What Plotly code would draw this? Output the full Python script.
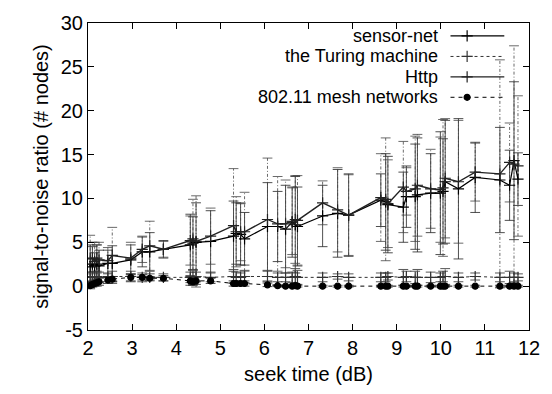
import plotly.graph_objects as go

# ---------------- data ----------------
x_vals = [2.05, 2.10, 2.15, 2.20, 2.25, 2.45, 2.55, 2.97, 3.23, 3.40, 3.71,
          4.32, 4.38, 4.45, 4.78, 5.30, 5.36, 5.46, 5.55, 6.07, 6.30, 6.48,
          6.63, 6.70, 6.75, 7.32, 7.66, 7.91, 8.64, 8.75, 8.80, 9.15, 9.22,
          9.42, 9.47, 9.77, 9.99, 10.05, 10.10, 10.40, 10.78, 11.34, 11.56,
          11.66, 11.75]

sensor_net = [2.2, 2.5, 2.3, 2.5, 2.3, 2.6, 2.6, 3.0, 3.9, 3.9, 4.2,
              4.7, 4.9, 5.0, 5.1, 5.7, 6.0, 5.9, 5.4, 6.8, 6.8, 6.5,
              7.3, 7.0, 6.8, 8.0, 8.3, 8.1, 9.8, 9.6, 9.3, 9.0, 10.2,
              10.2, 10.4, 10.6, 10.6, 10.8, 11.9, 11.1, 12.4, 12.1, 11.5,
              14.3, 12.2]
sensor_net_err = [2.5, 2.0, 1.5, 2.2, 1.8, 1.5, 2.0, 1.7, 1.7, 2.2, 1.0,
                  3.5, 3.0, 4.5, 3.5, 4.0, 3.5, 3.5, 3.0, 5.0, 4.0, 5.0,
                  4.0, 5.5, 4.5, 3.5, 5.0, 4.7, 3.0, 5.5, 5.5, 4.0, 3.5,
                  6.0, 6.5, 4.5, 7.0, 6.0, 7.0, 8.0, 4.0, 6.0, 4.0,
                  9.0, 3.0]

http = [3.1, 3.2, 2.8, 3.2, 3.0, 2.9, 3.5, 3.2, 4.2, 4.6, 4.2,
        5.2, 5.4, 5.1, 5.7, 6.9, 6.2, 6.2, 6.2, 7.6, 7.1, 7.1,
        7.4, 7.6, 7.5, 9.5, 8.7, 8.1, 10.1, 9.9, 9.4, 11.3, 10.8,
        11.1, 11.5, 11.1, 11.0, 11.2, 12.3, 11.9, 13.0, 12.8, 14.1,
        13.9, 13.7]
http_err = [2.7, 1.8, 2.2, 1.5, 2.0, 1.5, 3.2, 1.8, 1.5, 2.8, 0.9,
            2.8, 4.5, 5.2, 3.2, 6.5, 4.0, 3.3, 4.5, 7.0, 5.4, 5.0,
            3.8, 5.0, 5.1, 2.5, 4.8, 4.6, 5.0, 7.0, 5.0, 5.2, 2.7,
            6.0, 5.8, 4.5, 6.0, 7.8, 6.8, 7.0, 3.3, 13.0, 4.5,
            13.5, 8.0]

turing = [1.0, 1.1, 1.0, 1.1, 1.0, 1.0, 1.1, 1.1, 1.0, 1.0, 1.0,
          1.0, 1.0, 1.1, 1.0, 1.1, 1.0, 1.0, 1.1, 1.1, 1.0, 1.0,
          1.0, 1.1, 1.0, 1.0, 1.1, 1.0, 1.0, 1.0, 1.1, 1.0, 1.1,
          1.0, 1.0, 1.0, 1.0, 1.1, 1.1, 1.0, 1.1, 1.0, 1.0,
          1.0, 1.0]
turing_err = [0.6, 0.5, 0.7, 0.4, 0.6, 0.5, 0.6, 0.6, 0.5, 0.4, 0.4,
              0.6, 0.8, 0.5, 0.5, 0.8, 0.6, 0.5, 0.7, 0.6, 0.5, 0.5,
              0.6, 0.9, 0.8, 0.5, 0.3, 0.4, 0.5, 0.5, 0.4, 0.9, 0.6,
              0.7, 0.9, 0.6, 0.5, 0.6, 0.9, 0.5, 0.4, 0.5, 0.7,
              0.5, 0.4]

mesh = [0.05, 0.2, 0.3, 0.4, 0.5, 0.7, 0.8, 1.0, 1.0, 0.9, 0.9,
        0.6, 0.5, 0.6, 0.6, 0.3, 0.3, 0.3, 0.3, 0.15, 0.05, 0.0,
        0.0, 0.05, 0.0, 0.0, 0.0, 0.0, 0.0, 0.0, 0.0, 0.0, 0.0,
        0.0, 0.0, 0.0, 0.0, 0.0, 0.0, 0.0, 0.0, 0.0, 0.0,
        0.0, 0.0]
mesh_err = [0.2, 0.3, 0.3, 0.4, 0.4, 0.4, 0.3, 0.4, 0.3, 0.2, 0.3,
            0.5, 0.4, 0.4, 0.3, 0.3, 0.3, 0.2, 0.3, 0.2, 0.1, 0.1,
            0.1, 0.2, 0.1, 0.1, 0.1, 0.1, 0.1, 0.1, 0.1, 0.1, 0.1,
            0.1, 0.1, 0.1, 0.1, 0.1, 0.1, 0.1, 0.1, 0.1, 0.1,
            0.1, 0.1]

series_names = ["sensor-net", "the Turing machine", "Http", "802.11 mesh networks"]
x_ticks = [2, 3, 4, 5, 6, 7, 8, 9, 10, 11, 12]
y_ticks = [-5, 0, 5, 10, 15, 20, 25, 30]

FONT = "Liberation Sans, Arial, Helvetica, sans-serif"
FS = 20
KEY_FS = 18

styles = [
    dict(vals=sensor_net, err=sensor_net_err, color="#000000", width=1.2, dash="solid",
         bar_dash="solid", bar_color="#222222", bar_w=0.8, symbol="cross-thin", msize=8),
    dict(vals=turing, err=turing_err, color="#333333", width=1.0, dash="dot",
         bar_dash="dot", bar_color="#444444", bar_w=0.9, symbol="cross-thin", msize=8),
    dict(vals=http, err=http_err, color="#222222", width=1.4, dash="solid",
         bar_dash="3px,2px,1px,2px", bar_color="#444444", bar_w=0.8, symbol="cross-thin", msize=8),
    dict(vals=mesh, err=mesh_err, color="#000000", width=1.0, dash="4px,4px",
         bar_dash="3px,3px", bar_color="#222222", bar_w=0.8, symbol="circle", msize=6),
]

fig = go.Figure()

for name, st in zip(series_names, styles):
    bx, by = [], []
    lows, highs = [], []
    for xv, yv, ev in zip(x_vals, st["vals"], st["err"]):
        bx += [xv, xv, None]
        by += [yv - ev, yv + ev, None]
        lows.append(yv - ev)
        highs.append(yv + ev)
    # error bar stems
    fig.add_trace(go.Scatter(x=bx, y=by, mode="lines", showlegend=False,
                             line=dict(color=st["bar_color"], width=st["bar_w"], dash=st["bar_dash"]),
                             hoverinfo="skip"))
    # error bar caps
    fig.add_trace(go.Scatter(x=x_vals + x_vals, y=lows + highs, mode="markers", showlegend=False,
                             marker=dict(symbol="line-ew", size=7,
                                         line=dict(color=st["bar_color"], width=st["bar_w"])),
                             hoverinfo="skip"))

for name, st in zip(series_names, styles):
    mk = dict(symbol=st["symbol"], size=st["msize"], color=st["color"],
              line=dict(color=st["color"], width=1.2))
    fig.add_trace(go.Scatter(x=x_vals, y=st["vals"], mode="lines+markers", name=name,
                             showlegend=False,
                             line=dict(color=st["color"], width=st["width"], dash=st["dash"]),
                             marker=mk))

# ---------------- custom gnuplot-like key (top right) ----------------
key_rows = [0.958, 0.891, 0.8246, 0.758]
key_text_x = 0.798
key_line = [0.822, 0.944]
key_mark = 0.8597
for name, st, ry in zip(series_names, styles, key_rows):
    fig.add_annotation(x=key_text_x, y=ry, xref="paper", yref="paper", text=name,
                       showarrow=False, xanchor="right", yanchor="middle",
                       font=dict(family=FONT, size=KEY_FS, color="#000000"))
    fig.add_trace(go.Scatter(x=key_line, y=[ry, ry], xaxis="x2", yaxis="y2", mode="lines",
                             showlegend=False, hoverinfo="skip",
                             line=dict(color=st["color"], width=st["width"], dash=st["dash"])))
    fig.add_trace(go.Scatter(x=[key_mark], y=[ry], xaxis="x2", yaxis="y2", mode="markers",
                             showlegend=False, hoverinfo="skip",
                             marker=dict(symbol=st["symbol"], size=st["msize"], color=st["color"],
                                         line=dict(color=st["color"], width=1.2))))

axis_common = dict(showgrid=False, zeroline=False, showline=True, linecolor="#000000",
                   linewidth=1, mirror="ticks", ticks="inside", ticklen=6,
                   tickcolor="#000000", tickwidth=1,
                   tickfont=dict(family=FONT, size=FS, color="#000000"))

fig.update_layout(
    width=552, height=394,
    margin=dict(l=88, r=15, t=15, b=64),
    paper_bgcolor="white", plot_bgcolor="white",
    showlegend=False,
    font=dict(family=FONT, size=FS, color="#000000"),
    xaxis=dict(range=[2, 12], tickvals=x_ticks, ticktext=[str(v) for v in x_ticks],
               title=dict(text="seek time (dB)", font=dict(family=FONT, size=FS), standoff=8),
               **axis_common),
    yaxis=dict(range=[-5, 30], tickvals=y_ticks, ticktext=[str(v) for v in y_ticks],
               title=dict(text="signal-to-noise ratio (# nodes)", font=dict(family=FONT, size=FS),
                          standoff=6),
               **axis_common),
    xaxis2=dict(range=[0, 1], overlaying="x", visible=False, fixedrange=True),
    yaxis2=dict(range=[0, 1], overlaying="y", visible=False, fixedrange=True),
)

fig.write_html("out.html")
